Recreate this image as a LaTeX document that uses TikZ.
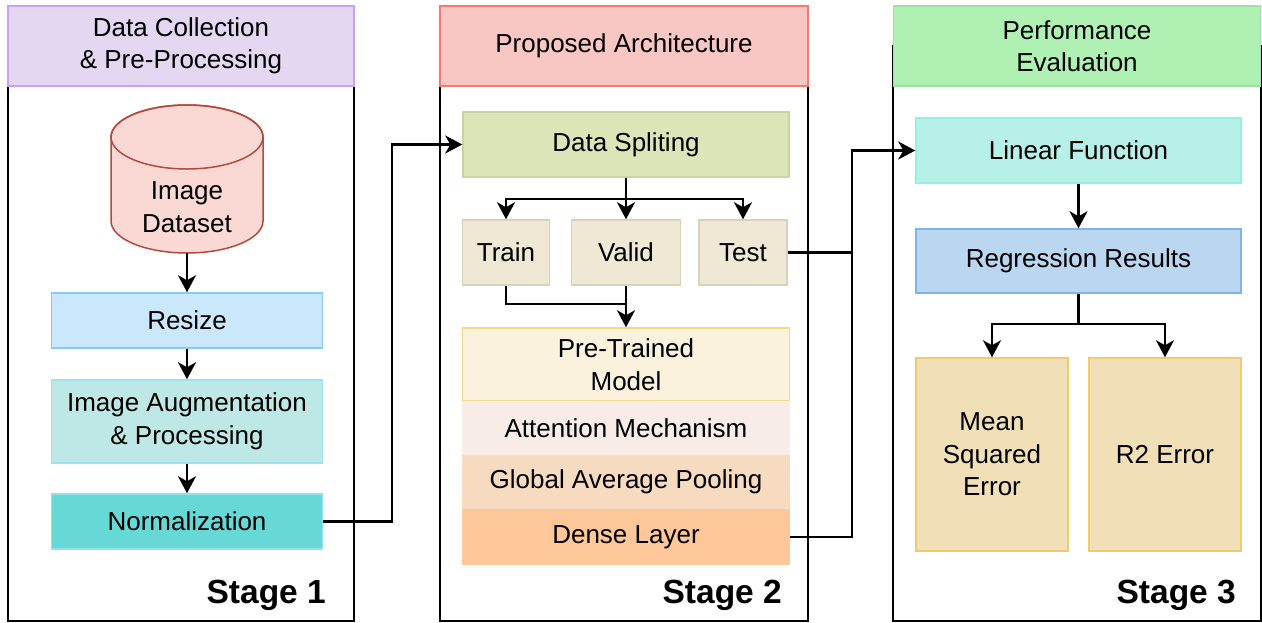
\documentclass[tikz,border=0pt]{standalone}
\usepackage{fontspec}
\setmainfont{Liberation Sans}
\usetikzlibrary{arrows.meta}
\definecolor{hAfill}{HTML}{E4D7F1}\definecolor{hAdraw}{HTML}{CC9EF7}
\definecolor{hBfill}{HTML}{F8C6C3}\definecolor{hBdraw}{HTML}{F7796F}
\definecolor{hCfill}{HTML}{AFF0B3}\definecolor{hCdraw}{HTML}{9EE2A3}
\definecolor{cylfill}{HTML}{FAD9D5}\definecolor{cyldraw}{HTML}{B5493B}
\definecolor{rsfill}{HTML}{CAE7FC}\definecolor{rsdraw}{HTML}{88CAF7}
\definecolor{agfill}{HTML}{BDE8E5}\definecolor{agdraw}{HTML}{9EE3EC}
\definecolor{nmfill}{HTML}{66D9D6}\definecolor{nmdraw}{HTML}{8FE3EE}
\definecolor{spfill}{HTML}{DCE5B8}\definecolor{spdraw}{HTML}{C9D3A3}
\definecolor{tvfill}{HTML}{EFE8D4}\definecolor{tvdraw}{HTML}{D8D2BB}
\definecolor{ptfill}{HTML}{FAF2DD}\definecolor{ptdraw}{HTML}{F2D98A}
\definecolor{atfill}{HTML}{F8ECE8}
\definecolor{gpfill}{HTML}{F7DBC1}
\definecolor{dlfill}{HTML}{FEC799}
\definecolor{lnfill}{HTML}{B7F0E7}\definecolor{lndraw}{HTML}{8EF3E4}
\definecolor{rgfill}{HTML}{BAD6F0}\definecolor{rgdraw}{HTML}{7EB4EA}
\definecolor{erfill}{HTML}{F1E0B7}\definecolor{erdraw}{HTML}{EECB6E}
\tikzset{
  txt/.style={font=\fontsize{26}{32.5}\selectfont, align=center, inner sep=0pt},
  boxnode/.style={txt, line width=1.5pt, rectangle},
  panel/.style={draw=black, line width=2pt},
  header/.style={boxnode, minimum height=80pt},
  arr/.style={draw=black, line width=2.2pt, -{Stealth[length=17pt,width=18pt,inset=5pt]}},
  conn/.style={draw=black, line width=2.2pt},
  stagelbl/.style={font=\fontsize{33.5}{40}\selectfont\bfseries, inner sep=0pt, anchor=east},
}
\begin{document}
\begin{tikzpicture}[x=1pt,y=-1pt]
\useasboundingbox (0,0) rectangle (1262,622);
\fill[white] (0,0) rectangle (1262,622);
% panels
\draw[panel] (8,46) rectangle (354,621);
\draw[panel] (440,46) rectangle (808,621);
\draw[panel] (893,46) rectangle (1261,621);
\node[header, fill=hAfill, draw=hAdraw, minimum width=346pt] (h1) at (181,46) {Data Collection\\\& Pre-Processing};
\node[header, fill=hBfill, draw=hBdraw, minimum width=368pt] (h2) at (624,46) {Proposed Architecture};
\node[header, fill=hCfill, draw=hCdraw, minimum width=367pt] (h3) at (1077,46) {Performance\\Evaluation};
% cylinder
\filldraw[fill=cylfill, draw=cyldraw, line width=1.5pt] (111,137) -- (111,221) arc[start angle=180,end angle=360,x radius=76pt,y radius=32pt] -- (263,137) arc[start angle=0,end angle=180,x radius=76pt,y radius=32pt] -- cycle;
\draw[cyldraw, line width=1.5pt] (187,137) ellipse[x radius=76pt,y radius=32pt];
\node[inner sep=0pt, minimum width=152pt, minimum height=148pt] (ds) at (187,179) {};
\node[txt] (dstxt) at (187,207) {Image\\Dataset};
% stage 1 boxes
\node[boxnode, fill=rsfill, draw=rsdraw, minimum width=271pt, minimum height=55pt] (resize) at (187,320.5) {Resize};
\node[boxnode, fill=agfill, draw=agdraw, minimum width=271pt, minimum height=83pt] (aug) at (187,421.5) {Image Augmentation\\\& Processing};
\node[boxnode, fill=nmfill, draw=nmdraw, minimum width=271pt, minimum height=55pt] (norm) at (187,521.5) {Normalization};
% stage 2 boxes
\node[boxnode, fill=spfill, draw=spdraw, minimum width=326pt, minimum height=65pt] (split) at (626,144.5) {Data Spliting};
\node[boxnode, fill=tvfill, draw=tvdraw, minimum width=87pt, minimum height=65pt] (train) at (506,252.5) {Train};
\node[boxnode, fill=tvfill, draw=tvdraw, minimum width=109pt, minimum height=65pt] (valid) at (626,252.5) {Valid};
\node[boxnode, fill=tvfill, draw=tvdraw, minimum width=88pt, minimum height=65pt] (test) at (743,252.5) {Test};
\node[boxnode, fill=ptfill, draw=ptdraw, minimum width=327pt, minimum height=73pt] (ptm) at (626,364.5) {Pre-Trained\\Model};
\node[txt, fill=atfill, minimum width=328.5pt, minimum height=54pt] (att) at (626,428) {Attention Mechanism};
\node[txt, fill=gpfill, minimum width=328.5pt, minimum height=54pt] (gap) at (626,482) {Global Average Pooling};
\node[txt, fill=dlfill, minimum width=328.5pt, minimum height=56pt] (dense) at (626,537) {Dense Layer};
% stage 3 boxes
\node[boxnode, fill=lnfill, draw=lndraw, minimum width=325pt, minimum height=65pt] (lin) at (1078.5,150.5) {Linear Function};
\node[boxnode, fill=rgfill, draw=rgdraw, minimum width=325pt, minimum height=64pt] (reg) at (1078.5,261) {Regression Results};
\node[boxnode, fill=erfill, draw=erdraw, minimum width=152pt, minimum height=193pt] (mse) at (992,454.5) {Mean\\Squared\\Error};
\node[boxnode, fill=erfill, draw=erdraw, minimum width=152pt, minimum height=193pt] (r2) at (1165,454.5) {R2 Error};
% stage labels
\node[stagelbl] (s1) at (326,595) {Stage 1};
\node[stagelbl] (s2) at (782,595) {Stage 2};
\node[stagelbl] (s3) at (1236,595) {Stage 3};
% coordinates
\coordinate (c1) at (392,144.5);
\coordinate (sb) at (626,199);
\coordinate (tj) at (626,304);
\coordinate (c2) at (852,150.5);
\coordinate (rb) at (1078.5,324);
% connectors
\draw[arr] (ds.south) -- (ds.south |- resize.north);
\draw[arr] (resize.south) -- (aug.north);
\draw[arr] (aug.south) -- (norm.north);
\draw[arr] (norm.east) -| (c1) -- (split.west);
\draw[conn] (split.south) -- (sb);
\draw[arr] (sb) -| (train.north);
\draw[arr] (sb) -- (valid.north);
\draw[arr] (sb) -| (test.north);
\draw[conn] (train.south) |- (tj);
\draw[arr] (valid.south) -- (ptm.north);
\draw[conn] (dense.east) -| (c2);
\draw[arr] (test.east) -| (c2) -- (lin.west);
\draw[arr] (lin.south) -- (reg.north);
\draw[conn] (reg.south) -- (rb);
\draw[arr] (rb) -| (mse.north);
\draw[arr] (rb) -| (r2.north);
\end{tikzpicture}
\end{document}
